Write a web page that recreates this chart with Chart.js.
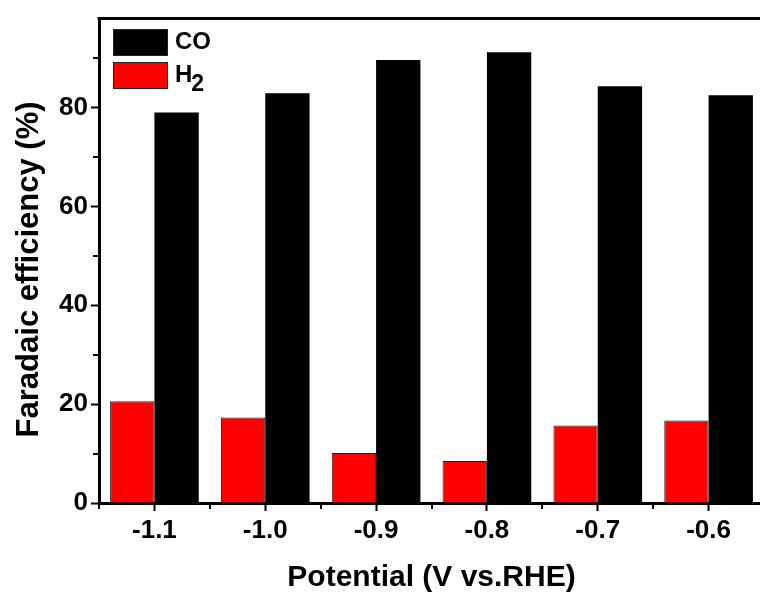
<!DOCTYPE html>
<html>
<head>
<meta charset="utf-8">
<script src="https://cdn.jsdelivr.net/npm/chart.js@4.4.1/dist/chart.umd.min.js"></script>
<style>
  html, body { margin: 0; padding: 0; background: #fff; overflow: hidden; }
  #wrap { width: 775px; height: 596px; }
</style>
</head>
<body>
<div id="wrap"><canvas id="feChart" width="775" height="596"></canvas></div>
<script>
// ---- values ----
const potentials = ['-1.1', '-1.0', '-0.9', '-0.8', '-0.7', '-0.6'];
const feH2 = [20.6, 17.3, 10.1, 8.5, 15.7, 16.7];
const feCO = [79.0, 82.9, 89.6, 91.2, 84.3, 82.5];
const yMinorTicks = [10, 30, 50, 70, 90];
const xMinorTicks = [-0.5, 0.5, 1.5, 2.5, 3.5, 4.5, 5.5];

const FONT = '"Liberation Sans", Arial, sans-serif';

// minor ticks + top frame line (Origin style)
const framePlugin = {
  id: 'frame',
  afterDraw(chart) {
    const { ctx, chartArea, scales } = chart;
    ctx.save();
    ctx.strokeStyle = '#000';
    ctx.lineWidth = 3;
    ctx.beginPath();
    ctx.moveTo(chartArea.left - 1.5, chartArea.top);
    ctx.lineTo(chart.width, chartArea.top);
    ctx.stroke();

    ctx.lineWidth = 2;
    yMinorTicks.forEach(v => {
      const y = Math.round(scales.y.getPixelForValue(v));
      ctx.beginPath();
      ctx.moveTo(chartArea.left - 6, y);
      ctx.lineTo(chartArea.left, y);
      ctx.stroke();
    });
    xMinorTicks.forEach(v => {
      const x = Math.round(scales.x.getPixelForValue(v));
      ctx.beginPath();
      ctx.moveTo(x, chartArea.bottom);
      ctx.lineTo(x, chartArea.bottom + 6);
      ctx.stroke();
    });
    ctx.restore();
  }
};

// legend with a real subscript for H2
const legendPlugin = {
  id: 'feLegend',
  afterDraw(chart) {
    const ctx = chart.ctx;
    const entries = [
      { ds: chart.data.datasets[1], text: 'CO', sub: '', y: 29 },
      { ds: chart.data.datasets[0], text: 'H', sub: '2', y: 62 }
    ];
    ctx.save();
    entries.forEach(e => {
      ctx.fillStyle = e.ds.backgroundColor;
      ctx.fillRect(113, e.y, 55, 27);
      ctx.strokeStyle = '#222';
      ctx.lineWidth = 1;
      ctx.strokeRect(113.5, e.y + 0.5, 54, 26);

      ctx.fillStyle = '#000';
      ctx.textBaseline = 'middle';
      ctx.textAlign = 'left';
      ctx.font = 'bold 24px ' + FONT;
      ctx.fillText(e.text, 175, e.y + 13);
      if (e.sub) {
        const w = ctx.measureText(e.text).width;
        ctx.font = 'bold 23px ' + FONT;
        ctx.fillText(e.sub, 175 + w - 1, e.y + 23);
      }
    });
    ctx.restore();
  }
};

const ctx = document.getElementById('feChart').getContext('2d');

new Chart(ctx, {
  type: 'bar',
  data: {
    labels: potentials,
    datasets: [
      {
        label: 'H2',
        data: feH2,
        backgroundColor: '#ff0000',
        borderColor: '#222',
        borderWidth: 1,
        categoryPercentage: 0.8,
        barPercentage: 1.0
      },
      {
        label: 'CO',
        data: feCO,
        backgroundColor: '#000000',
        borderColor: '#000',
        borderWidth: 0,
        categoryPercentage: 0.8,
        barPercentage: 1.0
      }
    ]
  },
  options: {
    responsive: false,
    animation: false,
    devicePixelRatio: 1,
    layout: { padding: { top: 13, right: 11, left: 0, bottom: 0 } },
    plugins: {
      legend: { display: false },
      tooltip: { enabled: false }
    },
    scales: {
      x: {
        offset: true,
        grid: {
          offset: false,
          drawOnChartArea: false,
          tickLength: 8,
          tickWidth: 2,
          tickColor: '#000'
        },
        border: { display: true, color: '#000', width: 3 },
        ticks: {
          color: '#000',
          padding: 4,
          font: { family: FONT, size: 26, weight: 'bold' }
        },
        title: {
          display: true,
          text: 'Potential (V vs.RHE)',
          color: '#000',
          padding: { top: 0, bottom: 0 },
          font: { family: FONT, size: 30, weight: 'bold' }
        },
        afterFit(scale) { scale.height = 93; }
      },
      y: {
        min: 0,
        max: 98,
        grid: {
          drawOnChartArea: false,
          tickLength: 8,
          tickWidth: 2,
          tickColor: '#000'
        },
        border: { display: true, color: '#000', width: 3 },
        ticks: {
          stepSize: 20,
          includeBounds: false,
          color: '#000',
          padding: 3,
          font: { family: FONT, size: 26, weight: 'bold' }
        },
        title: {
          display: true,
          text: 'Faradaic efficiency (%)\u00a0\u00a0',
          color: '#000',
          padding: { top: 11, bottom: 0 },
          font: { family: FONT, size: 31, weight: 'bold' }
        },
        afterFit(scale) { scale.width = 99; }
      }
    }
  },
  plugins: [framePlugin, legendPlugin]
});
</script>
</body>
</html>
